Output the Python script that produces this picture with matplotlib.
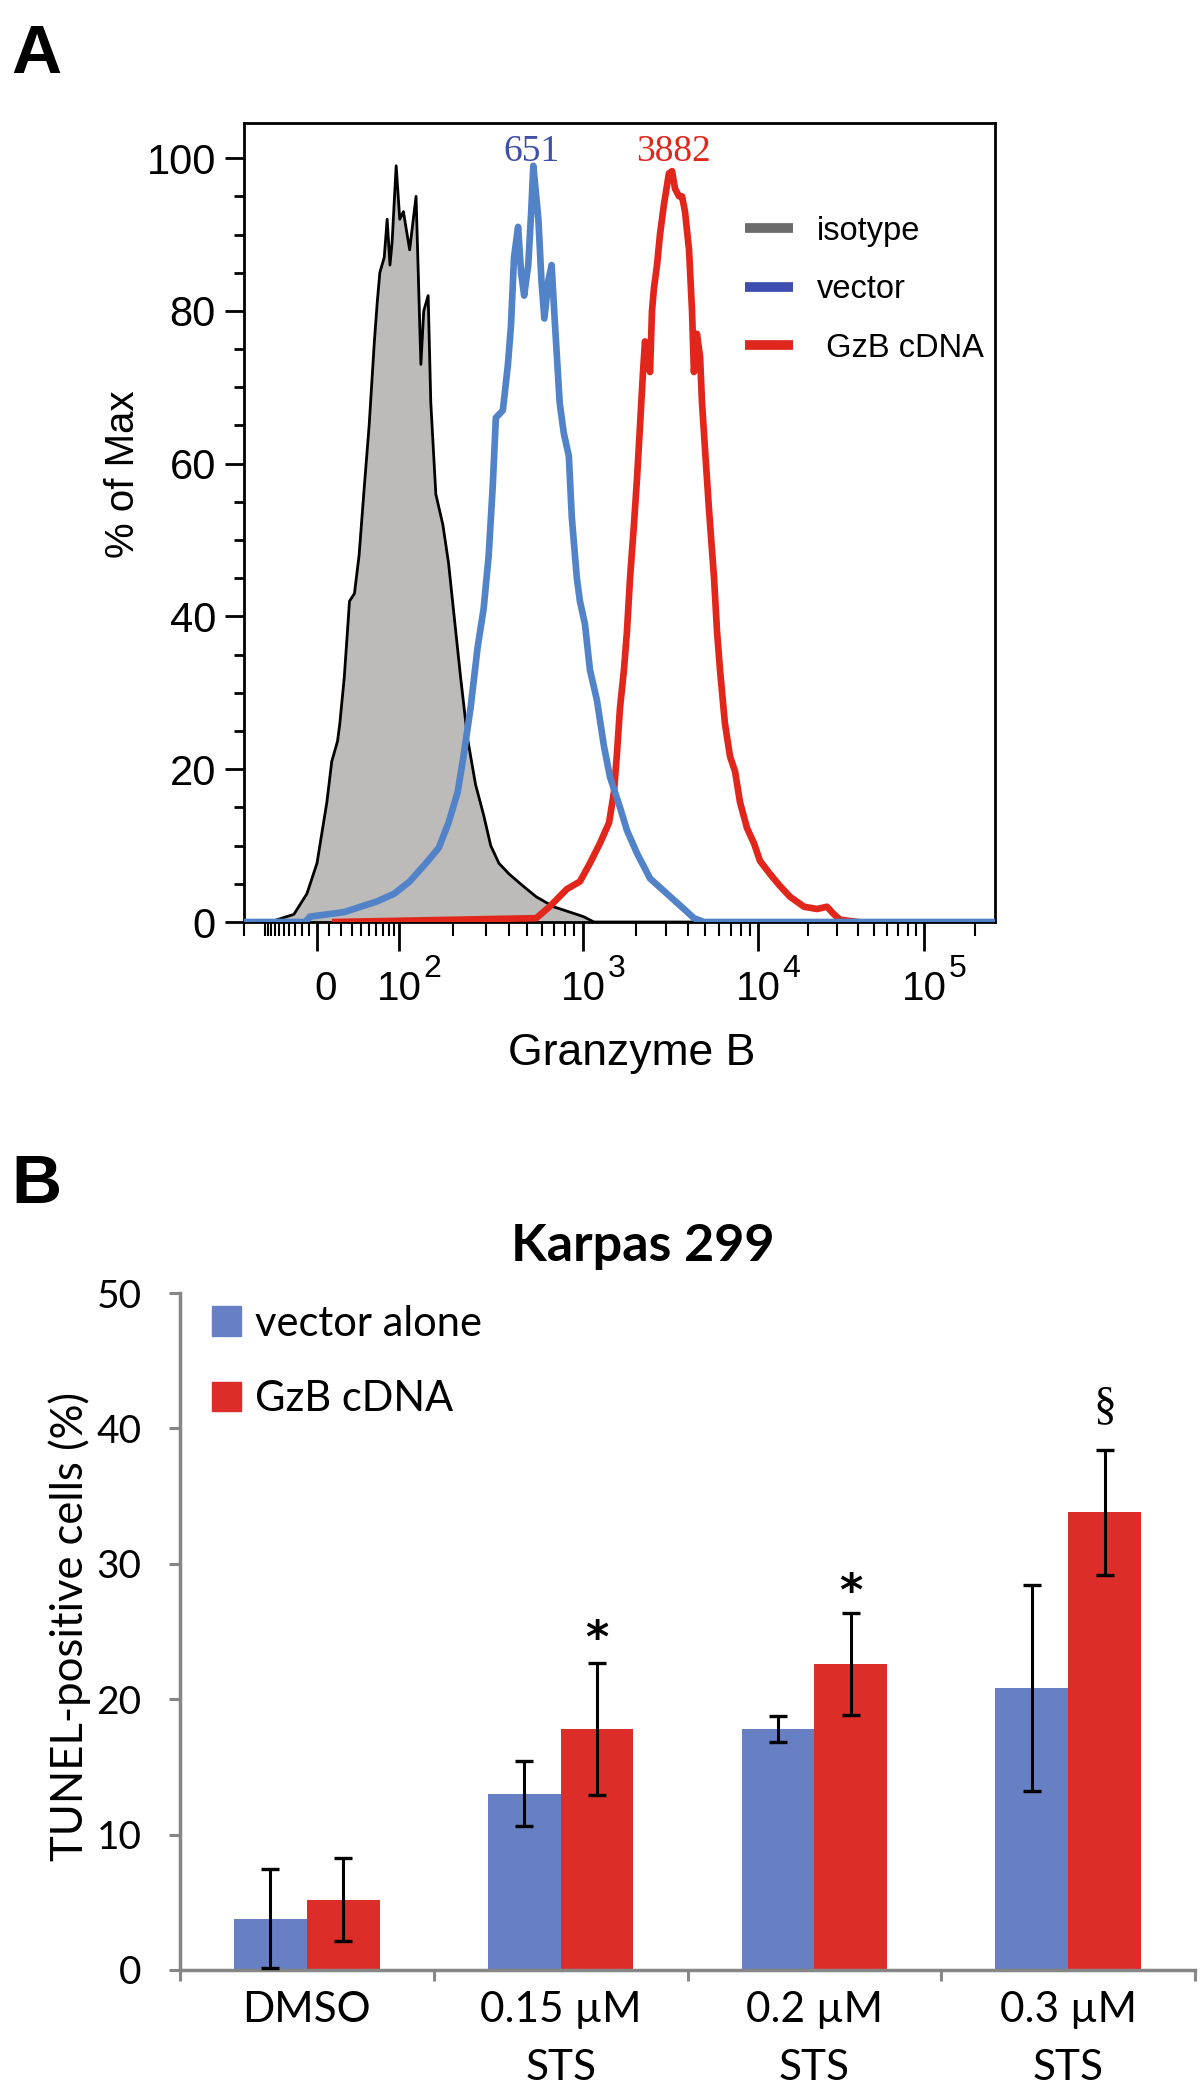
import numpy as np
import matplotlib
matplotlib.use('Agg')
import matplotlib.pyplot as plt
from matplotlib.lines import Line2D
from matplotlib.patches import Patch
from matplotlib.ticker import MultipleLocator, FixedLocator

plt.rcParams['font.family'] = ['Liberation Sans', 'DejaVu Sans']

# ---------------- panel A : flow histograms (x = fluorescence, y = % of max)
iso_x = [-65, -32, -13, 0, 8, 12, 17, 19, 23, 26, 28, 33, 38, 44, 50, 57, 61, 65, 72, 77,
         82, 86, 94, 101, 106, 115, 125, 133, 138, 146, 151, 161, 176, 189, 207, 220, 240,
         265, 293, 320, 354, 401, 478, 562, 695, 849, 1007, 1155, 5000]
iso_y = [0.3, 1, 3.7, 7.7, 15.7, 21, 23.7, 26, 32, 38, 42, 43, 48, 57, 65, 76, 81, 85, 87, 92,
         86, 89, 99, 92, 93, 88, 95, 73, 80, 82, 68, 56, 52, 47, 38, 32, 24,
         18, 14, 10, 7.7, 6.3, 4.7, 3.3, 2, 1.3, 0.7, 0, 0]

vec_x = [-200, -15, -9, 23, 61, 90, 115, 142, 167, 189, 212, 228, 249, 272, 293, 312, 328, 341,
         372, 396, 411, 427, 449, 466, 484, 509, 528, 542, 577, 599, 621, 653, 679, 705, 750,
         789, 840, 871, 927, 963, 1026, 1096, 1202, 1318, 1426, 1627, 1783, 2035, 2416, 3020,
         3777, 4305, 4911, 262144]
vec_y = [0, 0, 0.7, 1.3, 2.7, 3.7, 5.3, 7.7, 9.7, 13, 17, 21.7, 28, 36, 41, 48, 57, 66,
         67, 73, 78, 87, 91, 85, 82, 86, 93, 99, 92, 84, 79, 84, 86, 79, 68,
         64, 61, 53, 45, 42, 39, 33, 29, 23, 19, 15, 12, 9, 5.7, 3.7,
         1.7, 0.5, 0, 0]

gzb_x = [15, 562, 662, 819, 963, 1096, 1250, 1409, 1503, 1563, 1627, 1714, 1783, 1857, 1955,
         2035, 2118, 2203, 2261, 2351, 2416, 2479, 2545, 2649, 2754, 2904, 3098, 3228, 3357,
         3540, 3681, 3828, 4036, 4198, 4305, 4477, 4667, 4786, 4977, 5248, 5610, 5834, 6067,
         6471, 6918, 7396, 7889, 8650, 9484, 10280, 11800, 13580, 15600, 18930, 22660, 26050,
         28700, 31190, 40000]
gzb_y = [0, 0.5, 2, 4.3, 5.3, 7.7, 10.3, 13, 17, 22, 28, 33, 38, 45, 52,
         58, 65, 72, 76, 74, 72, 80, 83, 86, 90, 94, 98, 98.3, 96,
         95, 95, 93, 88, 80, 72, 77, 74, 68, 62, 54, 45, 38, 33,
         26, 21.7, 19.7, 15.7, 12.3, 10.3, 8, 6.3, 4.7, 3.3, 2, 1.7, 2,
         1, 0.3, 0]

hist_labels = ['isotype', 'vector', ' GzB cDNA']
mfi_text = ['651', '3882']
mfi_pos = [530, 3300]   # where the numbers sit over the peaks

# ---------------- panel B : TUNEL bars
categories = ['DMSO', '0.15 \u00b5M\nSTS', '0.2 \u00b5M\nSTS', '0.3 \u00b5M\nSTS']
vector_mean = [3.8, 13.0, 17.8, 20.8]
vector_err = [3.65, 2.4, 0.95, 7.6]
gzb_mean = [5.2, 17.8, 22.6, 33.8]
gzb_err = [3.05, 4.85, 3.75, 4.6]
sig_marks = ['', '*', '*', '\u00a7']
sig_y = [0, 25.3, 28.8, 41.6]

# biexponential-like display scale (FlowJo style)
W = 40.0
SCALE_VALS = np.array([-200, 0, 100, 1e3, 1e4, 1e5, 262144])
SCALE_POS = np.array([0, 73, 155, 339, 514, 680, 751])
_A = np.arcsinh(SCALE_VALS / W)


def bx_fwd(x):
    return np.interp(np.arcsinh(np.asarray(x, dtype=float) / W), _A, SCALE_POS)


def bx_inv(p):
    return W * np.sinh(np.interp(np.asarray(p, dtype=float), SCALE_POS, _A))


C_GRAY = '#bdbaba'
C_BLUE = '#5283c8'
C_RED = '#e2261b'

fig = plt.figure(figsize=(12, 20.95), dpi=100)

ax1 = fig.add_axes([244 / 1200, 1 - 922 / 2095, 751 / 1200, 799 / 2095])
ax1.set_xscale('function', functions=(bx_fwd, bx_inv))
ax1.fill_between(iso_x, iso_y, 0, color=C_GRAY, lw=0, zorder=1)
ax1.plot(iso_x, iso_y, color='black', lw=2, zorder=2)
ax1.plot(gzb_x, gzb_y, color=C_RED, lw=4.8, zorder=3)
ax1.plot(vec_x, vec_y, color=C_BLUE, lw=4.8, zorder=4)
ax1.set_xlim(-200, 262144)
ax1.set_ylim(0, 104.6)

ax1.text(mfi_pos[0], 99.6, mfi_text[0], color='#3e4fa8', fontsize=27,
         family='Liberation Serif', ha='center', va='baseline')
ax1.text(mfi_pos[1], 99.6, mfi_text[1], color=C_RED, fontsize=27,
         family='Liberation Serif', ha='center', va='baseline')

ax1.set_yticks(range(0, 101, 20))
ax1.yaxis.set_minor_locator(MultipleLocator(5))
ax1.tick_params(axis='y', which='major', length=13.7, width=2, labelsize=30, pad=6.5)
ax1.tick_params(axis='y', which='minor', length=7, width=2)

major_x = [0, 100, 1000, 10000, 100000]
minor_x = [-200, -100] + [-v for v in range(10, 100, 10)] + list(range(10, 100, 10))
for dec in [100, 1000, 10000]:
    minor_x += [k * dec for k in range(2, 10)]
minor_x += [200000]
ax1.xaxis.set_major_locator(FixedLocator(major_x))
ax1.xaxis.set_minor_locator(FixedLocator(minor_x))
ax1.tick_params(axis='x', which='major', length=21, width=2, labelbottom=False)
ax1.tick_params(axis='x', which='minor', length=10, width=1.5, labelbottom=False)
for sp in ax1.spines.values():
    sp.set_linewidth(2)

# x tick labels drawn by hand: "0", and 10 with a raised exponent
ax1.annotate('0', xy=(0, 0), xycoords=('data', 'axes fraction'), xytext=(6, -48),
             textcoords='offset points', ha='center', va='center', fontsize=29)
for exp in [2, 3, 4, 5]:
    ax1.annotate('10', xy=(10 ** exp, 0), xycoords=('data', 'axes fraction'),
                 xytext=(0, -48), textcoords='offset points', ha='center', va='center',
                 fontsize=29)
    ax1.annotate(str(exp), xy=(10 ** exp, 0), xycoords=('data', 'axes fraction'),
                 xytext=(17.5, -34), textcoords='offset points', ha='left', va='center',
                 fontsize=23)

fig.text(632 / 1200, 1 - 1053 / 2095, 'Granzyme B', fontsize=32, ha='center', va='center')
fig.text(123 / 1200, 1 - 474 / 2095, '% of Max', fontsize=29, rotation=90,
         ha='center', va='center')

leg_handles = [Line2D([], [], color='#6b6b6b', lw=7, solid_capstyle='butt'),
               Line2D([], [], color='#3d4db0', lw=7, solid_capstyle='butt'),
               Line2D([], [], color='#e0271e', lw=7, solid_capstyle='butt')]
ax1.legend(leg_handles, hist_labels, loc='upper left', bbox_to_anchor=(0.667, 0.884),
           frameon=False, fontsize=23.5, handlelength=1.47, handletextpad=0.74,
           labelspacing=0.84, borderpad=0, borderaxespad=0)

fig.text(11 / 1200, 1 - 55 / 2095, 'A', fontsize=50, weight='bold', ha='left', va='center')
fig.text(11 / 1200, 1 - 1185 / 2095, 'B', fontsize=50, weight='bold', ha='left', va='center')

# ---------------- panel B
BFONT = ['Lato', 'DejaVu Sans']
C_BAR_BLUE = '#6780c4'
C_BAR_RED = '#dc2d29'
C_AXIS = '#868686'
bw = 0.287
xpos = np.arange(len(categories))

ax2 = fig.add_axes([180 / 1200, 1 - 1970 / 2095, 1015 / 1200, 677 / 2095])
ax2.bar(xpos - bw / 2, vector_mean, bw, color=C_BAR_BLUE, label='vector alone', zorder=2)
ax2.bar(xpos + bw / 2, gzb_mean, bw, color=C_BAR_RED, label='GzB cDNA', zorder=2)
ax2.errorbar(xpos - bw / 2, vector_mean, yerr=vector_err, fmt='none', ecolor='black',
             elinewidth=2.2, capsize=6.5, capthick=2.4, zorder=3)
ax2.errorbar(xpos + bw / 2, gzb_mean, yerr=gzb_err, fmt='none', ecolor='black',
             elinewidth=2.2, capsize=6.5, capthick=2.4, zorder=3)
for i, m in enumerate(sig_marks):
    if not m:
        continue
    if m == '*':
        # asterisk ink sits high in its text box, so pull the anchor down a bit
        ax2.annotate(m, xy=(xpos[i] + bw / 2, sig_y[i]), xytext=(0, -9),
                     textcoords='offset points', fontsize=32, fontweight='bold',
                     family='DejaVu Sans', ha='center', va='center')
    else:
        ax2.text(xpos[i] + bw / 2, sig_y[i], m, fontsize=33,
                 family='Liberation Serif', ha='center', va='center')

ax2.set_xlim(-0.5, len(categories) - 0.5)
ax2.set_ylim(0, 50)
ax2.set_yticks(range(0, 51, 10))
ax2.set_xticks(np.arange(len(categories) + 1) - 0.5)
ax2.set_xticks(xpos, minor=True)
ax2.set_xticklabels([''] * (len(categories) + 1))
ax2.set_xticklabels(categories, minor=True, family=BFONT, fontsize=30.5, linespacing=1.66)
for lab in ax2.get_yticklabels():
    lab.set_family(BFONT)
ax2.tick_params(axis='y', length=7.6, width=2.2, color=C_AXIS, labelsize=28, pad=20)
ax2.tick_params(axis='x', which='major', length=8, width=2.2, color=C_AXIS)
ax2.tick_params(axis='x', which='minor', length=0, pad=15)
for side in ['top', 'right']:
    ax2.spines[side].set_visible(False)
for side in ['left', 'bottom']:
    ax2.spines[side].set_color(C_AXIS)
    ax2.spines[side].set_linewidth(2.5)

ax2.legend(handles=[Patch(color=C_BAR_BLUE), Patch(color=C_BAR_RED)],
           labels=['vector alone', 'GzB cDNA'], loc='upper left',
           bbox_to_anchor=(0.0315, 0.983), frameon=False, prop={'family': BFONT, 'size': 30},
           handlelength=0.7, handleheight=0.7, handletextpad=0.34, labelspacing=0.91,
           borderpad=0, borderaxespad=0)

fig.text(643 / 1200, 1 - 1247 / 2095, 'Karpas 299', fontsize=37.5, fontweight='bold',
         family=BFONT, ha='center', va='center')
fig.text(70 / 1200, 1 - 1626 / 2095, 'TUNEL-positive cells (%)', fontsize=31.4,
         family=BFONT, rotation=90, ha='center', va='center')

fig.savefig('out.png', dpi=100)
